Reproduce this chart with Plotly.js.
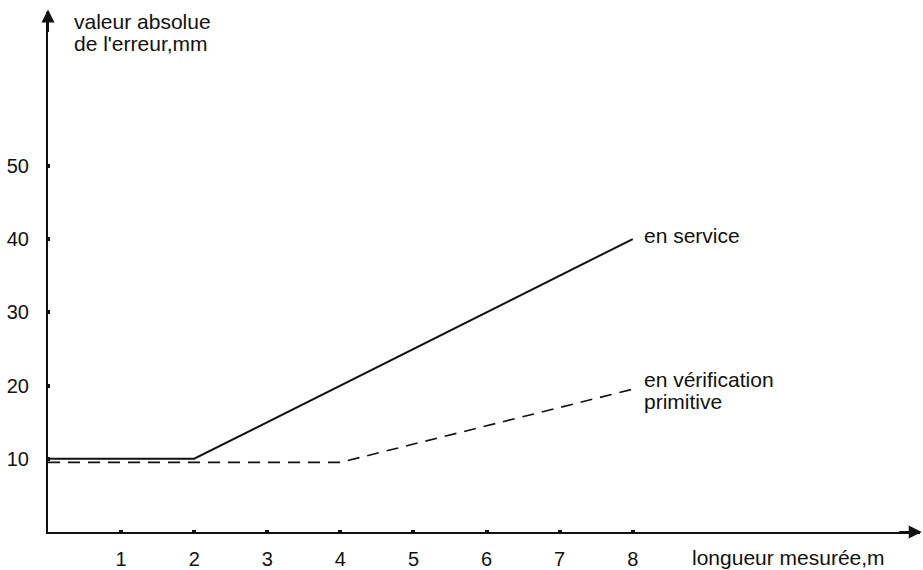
<!DOCTYPE html>
<html>
<head>
<meta charset="utf-8">
<script src="https://cdn.plot.ly/plotly-3.0.1.min.js"></script>
<style>html,body{margin:0;padding:0;background:#fff;}#chart{width:923px;height:570px;}</style>
</head>
<body>
<div id="chart"></div>
<script>
// Data
const xService = [0, 2, 8];
const yService = [10, 10, 40];
const xPrimitive = [0, 4, 8];
const yPrimitive = [9.5, 9.5, 19.5];
const xTicks = [1, 2, 3, 4, 5, 6, 7, 8];
const yTicks = [10, 20, 30, 40, 50];
const labelService = ["en service"];
const labelPrimitive = ["en vérification", "primitive"];
const xTitle = "longueur mesurée,m";
const yTitle = ["valeur absolue", "de l'erreur,mm"];

const FONT = "Liberation Sans, Arial, Helvetica, sans-serif";
const TXT = 21;

const traces = [
  {x: xService, y: yService, mode: "lines", type: "scatter",
   line: {color: "#111", width: 2}, hoverinfo: "skip"},
  {x: xPrimitive, y: yPrimitive, mode: "lines", type: "scatter",
   line: {color: "#111", width: 1.6, dash: "12px,8px"}, hoverinfo: "skip"}
];

function textLines(lines, xref, yref, x, y0, step, xanchor) {
  return lines.map((t, i) => ({
    xref: xref, yref: yref, x: x, y: y0, yshift: -i * step,
    xanchor: xanchor, yanchor: "middle", align: "left",
    text: t, showarrow: false, font: {family: FONT, size: TXT, color: "#111"}
  }));
}

const layout = {
  width: 923, height: 570,
  margin: {l: 48, r: 3, t: 12, b: 38},
  paper_bgcolor: "#fff", plot_bgcolor: "#fff",
  showlegend: false,
  font: {family: FONT, size: 20, color: "#111"},
  xaxis: {
    range: [0, 11.93], showgrid: false, zeroline: false,
    showline: true, linecolor: "#111", linewidth: 2,
    tickmode: "array", tickvals: xTicks, ticktext: xTicks.map(String),
    ticks: "inside", ticklen: 2, tickwidth: 4, tickcolor: "#111",
    ticklabelstandoff: 8,
    tickfont: {family: FONT, size: 20, color: "#111"}
  },
  yaxis: {
    range: [0, 71], showgrid: false, zeroline: false,
    showline: true, linecolor: "#111", linewidth: 2,
    tickmode: "array", tickvals: yTicks, ticktext: yTicks.map(String),
    ticks: "inside", ticklen: 2, tickwidth: 4, tickcolor: "#111",
    ticklabelstandoff: 13,
    tickfont: {family: FONT, size: 20, color: "#111"}
  },
  annotations: [
    {xref: "x", yref: "paper", x: 0, y: 1.005, ax: 0, ay: 24, text: "",
     showarrow: true, arrowhead: 2, arrowsize: 1.3, arrowwidth: 2, arrowcolor: "#111"},
    {xref: "paper", yref: "y", x: 1.002, y: 0, ax: -24, ay: 0, text: "",
     showarrow: true, arrowhead: 2, arrowsize: 1.3, arrowwidth: 2, arrowcolor: "#111"},
    ...textLines(yTitle, "paper", "paper", 24/872, 1 - 9/520, 22, "left"),
    {xref: "x", yref: "paper", x: 8.78, y: -25/520, xanchor: "left", yanchor: "middle",
     text: xTitle, showarrow: false, font: {family: FONT, size: TXT, color: "#111"}},
    ...textLines(labelService, "x", "y", 8.12, 40.5, 22, "left"),
    ...textLines(labelPrimitive, "x", "y", 8.12, 20.8, 22, "left")
  ]
};

Plotly.newPlot("chart", traces, layout, {displayModeBar: false, staticPlot: true});
</script>
</body>
</html>
